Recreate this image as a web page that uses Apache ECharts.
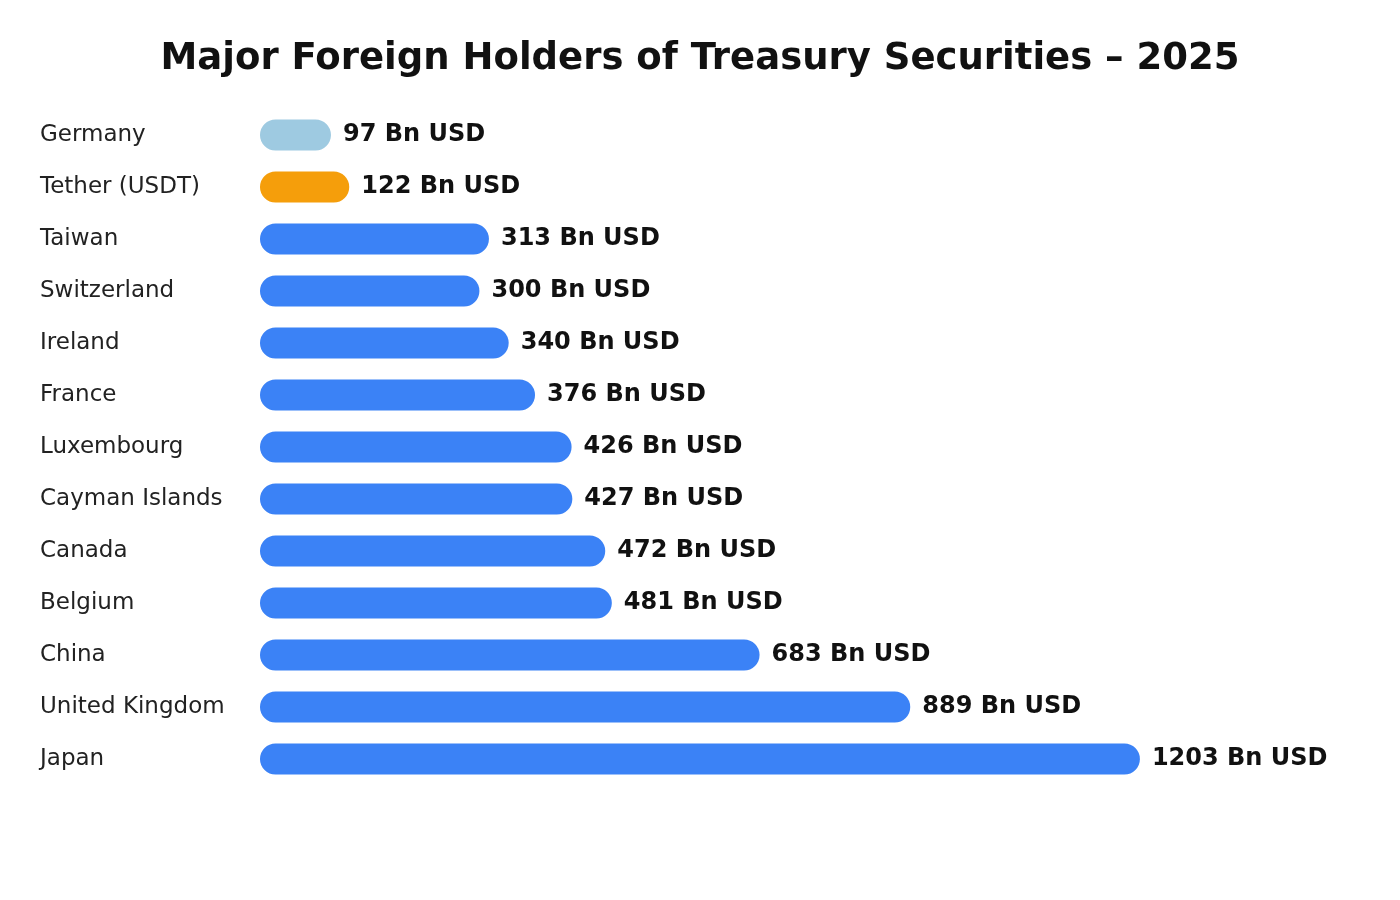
<!DOCTYPE html>
<html><head><meta charset="utf-8">
<script src="https://cdn.jsdelivr.net/npm/echarts@6/dist/echarts.min.js"></script>
<style>html,body{margin:0;background:#fff}#c{width:1400px;height:900px}</style>
</head><body><div id="c"></div>
<script>
const categories = ["Germany","Tether (USDT)","Taiwan","Switzerland","Ireland","France","Luxembourg","Cayman Islands","Canada","Belgium","China","United Kingdom","Japan"];
const values = [97,122,313,300,340,376,426,427,472,481,683,889,1203];
const colors = ["#9ecae1","#f59e0b","#3b82f6","#3b82f6","#3b82f6","#3b82f6","#3b82f6","#3b82f6","#3b82f6","#3b82f6","#3b82f6","#3b82f6","#3b82f6"];
const chart = echarts.init(document.getElementById('c'));
chart.setOption({
  animation:false,
  title:{text:"Major Foreign Holders of Treasury Securities – 2025",left:'center',top:36,
    textStyle:{fontFamily:'DejaVu Sans',fontSize:37,fontWeight:'bold',color:'#111'}},
  grid:{left:260,right:116,top:109,bottom:115},
  xAxis:{type:'value',min:0,max:1400,show:false},
  yAxis:{type:'category',inverse:true,data:categories,axisLine:{show:false},axisTick:{show:false},
    axisLabel:{align:'left',margin:220,fontFamily:'DejaVu Sans',fontSize:23,color:'#222'}},
  series:[{type:'bar',barWidth:31,
    data:values.map((v,i)=>({value:v,itemStyle:{color:colors[i],borderRadius:15.5}})),
    label:{show:true,position:'right',distance:12,formatter:p=>p.value+' Bn USD',
      fontFamily:'DejaVu Sans',fontSize:24,fontWeight:'bold',color:'#111'}}]
});
</script></body></html>
